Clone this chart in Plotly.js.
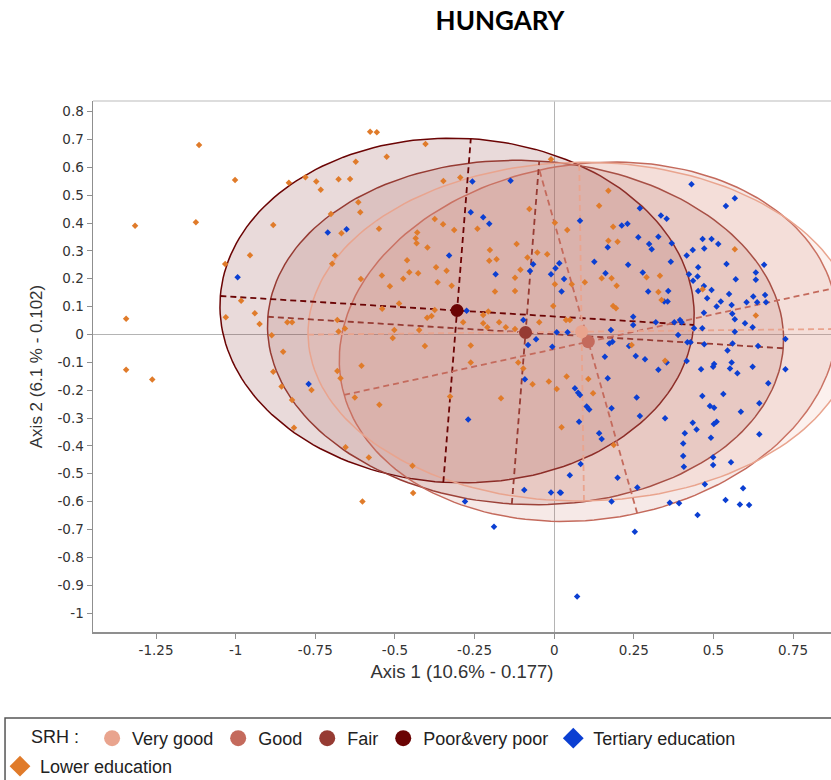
<!DOCTYPE html>
<html>
<head>
<meta charset="utf-8">
<script src="https://cdn.plot.ly/plotly-3.0.1.min.js"></script>
<style>html,body{margin:0;padding:0;background:#fff;}</style>
</head>
<body>
<div id="chart" style="width:831px;height:780px;"></div>
<script>
// Self-rated health (SRH) categories: centroids and confidence ellipses on the first factorial plane
const srhNames = ["Very good", "Good", "Fair", "Poor&very poor"];
const srhColors = ["#e9a48e", "#c46a5c", "#963b33", "#6b0404"];
const srhCentroidX = [0.086, 0.107, -0.090, -0.305];
const srhCentroidY = [0.010, -0.026, 0.007, 0.086];
const ellipseSemiMajor = [0.859, 0.790, 0.811, 0.745];
const ellipseSemiMinor = [0.608, 0.635, 0.617, 0.618];
const ellipseAngleDeg = [0.7, 14, -4, -4];

// Individuals with tertiary education (axis 1, axis 2)
const tertiaryPoints = [
[-0.994,0.205],[-0.711,0.366],[-0.652,0.378],[-0.771,-0.178],
[-0.257,0.549],[-0.137,0.552],[-0.262,0.439],[-0.223,0.421],[-0.204,0.397],[-0.330,0.283],[-0.275,0.085],[-0.184,0.216],
[-0.076,0.228],[-0.066,0.252],[-0.010,0.216],[0.004,0.238],[0.016,0.256],[0.031,0.199],[0.023,0.154],[0.081,0.408],
[0.126,0.261],[0.161,0.220],[0.168,0.313],[0.212,0.391],[0.230,0.397],[0.269,0.453],[0.264,0.349],[0.298,0.325],
[0.306,0.306],[0.327,0.351],[0.335,0.427],[0.353,0.415],[0.232,0.250],[0.278,0.222],[0.295,0.154],[0.358,0.156],
[0.345,0.118],[0.356,0.118],[0.366,0.261],[0.369,0.327],[0.431,0.539],[0.539,0.461],[0.567,0.489],[0.416,0.283],
[0.435,0.303],[0.466,0.343],[0.494,0.343],[0.515,0.325],[0.471,0.309],[0.452,0.241],[0.423,0.216],[0.436,0.193],
[0.450,0.208],[0.470,0.174],[0.452,0.156],[0.494,0.160],[0.480,0.130],[0.523,0.118],[0.510,0.100],[0.470,0.078],
[0.465,0.022],[0.541,0.253],[0.570,0.198],[0.549,0.145],[0.557,0.106],[0.559,0.074],[0.567,0.055],[0.567,0.010],
[0.599,0.040],[0.623,0.026],[0.604,0.116],[0.625,0.136],[0.637,0.116],[0.633,0.196],[0.633,0.222],[0.659,0.250],
[0.662,0.142],[0.665,0.116],[0.726,-0.016],[0.726,-0.125],[0.672,-0.175],[0.640,-0.041],[0.623,-0.116],[0.575,-0.139],
[0.557,-0.101],[0.552,-0.122],[0.560,-0.032],[0.544,-0.058],[0.502,-0.106],[0.499,-0.116],[0.471,-0.035],[0.461,-0.125],
[0.439,0.022],[0.418,-0.028],[0.428,-0.028],[0.395,0.052],[0.400,0.044],[0.389,-0.002],[0.377,0.044],[0.416,-0.095],
[0.327,-0.127],[0.353,-0.101],[0.285,-0.089],[0.256,-0.077],[0.319,0.044],[0.248,0.064],[0.248,0.034],[0.178,0.016],
[0.173,-0.032],[0.183,-0.026],[0.235,-0.041],[0.159,-0.080],[0.168,-0.157],[0.008,0.008],[0.042,0.008],[-0.006,-0.044],
[-0.057,-0.017],[-0.082,-0.038],[-0.097,0.052],[-0.092,-0.161],[0.065,-0.193],
[0.075,-0.209],[0.081,-0.217],[0.102,-0.259],[0.110,-0.269],[0.180,-0.265],[0.259,-0.226],[0.269,-0.293],[0.348,-0.301],
[0.078,-0.313],[0.141,-0.355],[0.149,-0.375],[0.083,-0.465],[0.049,-0.505],[0.021,-0.568],[0.199,-0.514],[0.261,-0.549],
[0.180,-0.600],[0.253,-0.708],[0.363,-0.604],[0.392,-0.606],[0.450,-0.648],[0.473,-0.538],[0.538,-0.594],[0.583,-0.610],
[0.612,-0.612],[0.593,-0.552],[0.499,-0.441],[0.555,-0.459],[0.499,-0.469],[0.405,-0.436],[0.407,-0.475],[0.405,-0.391],
[0.410,-0.355],[0.435,-0.317],[0.447,-0.341],[0.492,-0.371],[0.501,-0.321],[0.510,-0.313],[0.586,-0.277],[0.644,-0.247],
[0.644,-0.358],[0.531,-0.214],[0.465,-0.221],[0.489,-0.257],[0.502,-0.263],
[-0.270,-0.305],[-0.010,-0.567],[0.018,-0.567],[-0.094,-0.558],[-0.280,-0.600],[-0.189,-0.690],[0.072,-0.941]
];

// Individuals with lower education (axis 1, axis 2)
const lowerPoints = [
[-1.115,0.680],[-1.316,0.390],[-1.002,0.554],[-1.125,0.403],[-1.344,0.056],[-1.344,-0.127],[-1.262,-0.162],
[-0.578,0.728],[-0.557,0.726],[-0.526,0.638],[-0.623,0.620],[-0.833,0.545],[-0.781,0.564],[-0.747,0.549],[-0.733,0.519],
[-0.677,0.557],[-0.641,0.558],[-0.615,0.475],[-0.609,0.439],[-0.882,0.393],[-0.701,0.432],[-0.668,0.363],[-0.688,0.283],
[-0.697,0.254],[-0.550,0.379],[-0.955,0.284],[-1.033,0.253],[-0.983,0.121],[-0.940,0.076],[-0.925,0.038],[-1.031,0.062],
[-0.838,0.044],[-0.823,0.044],[-0.887,-0.003],[-0.851,-0.062],[-0.882,-0.134],[-0.856,-0.187],[-0.681,0.052],[-0.677,0.011],
[-0.657,0.021],[-0.607,0.199],[-0.541,0.212],[-0.516,0.173],[-0.487,0.111],[-0.540,0.092],[-0.502,0.016],[-0.507,-0.013],
[-0.605,-0.112],[-0.681,-0.131],[-0.671,-0.157],[-0.462,0.266],[-0.455,0.223],[-0.474,0.200],[-0.430,0.366],[-0.435,0.345],
[-0.432,0.327],[-0.427,0.220],[-0.424,0.016],
[-0.762,-0.199],[-0.823,-0.235],[-0.817,-0.335],[-0.655,-0.405],[-0.582,-0.442],[-0.626,-0.226],[-0.549,-0.252],
[-0.602,-0.600],[-0.443,-0.569],[-0.445,-0.471],
[-0.404,0.684],[-0.010,0.629],[-0.348,0.551],[-0.295,0.563],[0.170,0.516],[0.141,0.462],[-0.375,0.414],[-0.349,0.396],
[-0.314,0.375],[-0.241,0.379],[-0.398,0.312],[-0.371,0.241],[-0.338,0.229],[-0.322,0.175],[-0.366,0.187],[-0.202,0.303],
[-0.204,0.265],[-0.181,0.270],[-0.118,0.325],[-0.078,0.450],[-0.053,0.294],[-0.022,0.288],[-0.084,0.276],[0.002,0.401],
[0.041,0.375],[-0.106,0.232],[-0.123,0.204],[-0.186,0.154],[-0.123,0.156],[0.002,0.180],[-0.003,0.102],[0.055,0.180],
[-0.223,0.070],[-0.207,0.082],[-0.375,0.088],[-0.399,0.060],[-0.385,0.066],[-0.286,0.044],[-0.223,0.040],[-0.210,0.026],
[-0.173,0.044],[-0.152,0.026],[-0.123,0.020],[-0.047,0.044],[0.037,0.052],[0.049,0.052],[-0.406,-0.041],[-0.262,-0.040],
[-0.262,-0.101],[-0.113,-0.101],[-0.097,-0.122],[-0.068,-0.179],[0.039,-0.151],[0.185,0.387],[0.199,0.333],[0.170,0.336],
[0.149,0.202],[0.180,0.202],[0.196,0.175],[0.185,0.102],[0.194,0.094],[0.096,0.187],[0.290,0.205],[0.332,0.211],
[0.327,0.152],[0.337,0.124],[0.243,-0.038],[0.348,-0.094],[0.567,0.306],[0.633,0.068],[0.466,0.162],
[0.107,-0.160],[0.122,-0.211],[0.023,-0.333],[0.187,-0.397],[-0.327,-0.223],[-0.167,-0.229],[-0.017,-0.169],[0.008,-0.196]
];

const xTickVals = [-1.25, -1, -0.75, -0.5, -0.25, 0, 0.25, 0.5, 0.75];
const xTickText = ["-1.25", "-1", "-0.75", "-0.5", "-0.25", "0", "0.25", "0.5", "0.75"];
const yTickVals = [0.8, 0.7, 0.6, 0.5, 0.4, 0.3, 0.2, 0.1, 0, -0.1, -0.2, -0.3, -0.4, -0.5, -0.6, -0.7, -0.8, -0.9, -1];
const yTickText = ["0.8", "0.7", "0.6", "0.5", "0.4", "0.3", "0.2", "0.1", "0", "-0.1", "-0.2", "-0.3", "-0.4", "-0.5", "-0.6", "-0.7", "-0.8", "-0.9", "-1"];

const tertiaryColor = "#0b3fd2";
const lowerColor = "#e07b2a";

function rgba(hex, a) {
  const n = parseInt(hex.slice(1), 16);
  return "rgba(" + ((n >> 16) & 255) + "," + ((n >> 8) & 255) + "," + (n & 255) + "," + a + ")";
}

// Outline of ellipse i, sampled around its parametric angle
function ellipseOutline(i, steps) {
  const th = ellipseAngleDeg[i] * Math.PI / 180, c = Math.cos(th), s = Math.sin(th);
  const xs = [], ys = [];
  for (let k = 0; k <= steps; k++) {
    const t = 2 * Math.PI * k / steps;
    const u = ellipseSemiMajor[i] * Math.cos(t), v = ellipseSemiMinor[i] * Math.sin(t);
    xs.push(srhCentroidX[i] + u * c - v * s);
    ys.push(srhCentroidY[i] + u * s + v * c);
  }
  return { xs, ys };
}

// Principal axes of ellipse i (major, gap, minor)
function ellipseAxes(i) {
  const th = ellipseAngleDeg[i] * Math.PI / 180, c = Math.cos(th), s = Math.sin(th);
  const cx = srhCentroidX[i], cy = srhCentroidY[i], a = ellipseSemiMajor[i], b = ellipseSemiMinor[i];
  return {
    xs: [cx - a * c, cx + a * c, null, cx + b * s, cx - b * s],
    ys: [cy - a * s, cy + a * s, null, cy - b * c, cy + b * c]
  };
}

const traces = [];
const drawOrder = [3, 2, 1, 0];

drawOrder.forEach(i => {
  const e = ellipseOutline(i, 180);
  traces.push({
    type: "scatter", mode: "lines", x: e.xs, y: e.ys, fill: "toself",
    fillcolor: rgba(srhColors[i], 0.15),
    line: { color: srhColors[i], width: 1.5 },
    showlegend: false, hoverinfo: "skip"
  });
});

drawOrder.forEach(i => {
  const ax = ellipseAxes(i);
  traces.push({
    type: "scatter", mode: "lines", x: ax.xs, y: ax.ys,
    line: { color: srhColors[i], width: 1.8, dash: "6px,4px" },
    showlegend: false, hoverinfo: "skip"
  });
});

traces.push({
  type: "scatter", mode: "markers", name: "Tertiary education",
  x: tertiaryPoints.map(p => p[0]), y: tertiaryPoints.map(p => p[1]),
  marker: { symbol: "diamond", size: 5, color: tertiaryColor },
  showlegend: false
});
traces.push({
  type: "scatter", mode: "markers", name: "Lower education",
  x: lowerPoints.map(p => p[0]), y: lowerPoints.map(p => p[1]),
  marker: { symbol: "diamond", size: 5, color: lowerColor },
  showlegend: false
});

// Category centroids
drawOrder.forEach(i => {
  traces.push({
    type: "scatter", mode: "markers", name: srhNames[i],
    x: [srhCentroidX[i]], y: [srhCentroidY[i]],
    marker: { symbol: "circle", size: 13, color: srhColors[i] },
    showlegend: false
  });
});

// Legend entries
srhNames.forEach((n, i) => {
  traces.push({
    type: "scatter", mode: "markers", name: n, x: [null], y: [null],
    marker: { symbol: "circle", size: 16, color: srhColors[i] },
    legend: "legend", showlegend: true, hoverinfo: "skip"
  });
});
traces.push({
  type: "scatter", mode: "markers", name: "Tertiary education", x: [null], y: [null],
  marker: { symbol: "diamond", size: 16, color: tertiaryColor },
  legend: "legend", showlegend: true, hoverinfo: "skip"
});
traces.push({
  type: "scatter", mode: "markers", name: "Lower education", x: [null], y: [null],
  marker: { symbol: "diamond", size: 16, color: lowerColor },
  legend: "legend2", showlegend: true, hoverinfo: "skip"
});

const tickFont = { family: "DejaVu Sans, Liberation Sans, sans-serif", size: 13.5, color: "#333" };
const legendFont = { family: "Liberation Sans, Arial, sans-serif", size: 18, color: "#222" };

const layout = {
  width: 831, height: 780,
  margin: { l: 93, r: 0, t: 101, b: 148 },
  paper_bgcolor: "#fff", plot_bgcolor: "#fff",
  title: {
    text: "<b>HUNGARY</b>", font: { family: "Lato, Liberation Sans, sans-serif", size: 26, color: "#000" },
    xref: "container", yref: "container", x: 0.6017, xanchor: "center", y: 0.973, yanchor: "middle"
  },
  xaxis: {
    range: [-1.448, 0.869], tickmode: "array", tickvals: xTickVals, ticktext: xTickText,
    showgrid: false, zeroline: true, zerolinecolor: "#b4b4b4", zerolinewidth: 1,
    showline: true, linecolor: "#8f8f8f", linewidth: 1.5,
    ticks: "outside", ticklen: 5, tickcolor: "#8f8f8f", tickfont: tickFont,
    title: { text: "Axis 1 (10.6% - 0.177)", font: { family: "Liberation Sans, Arial, sans-serif", size: 18.5, color: "#333" }, standoff: 8 }
  },
  yaxis: {
    range: [-1.068, 0.838], tickmode: "array", tickvals: yTickVals, ticktext: yTickText,
    showgrid: false, zeroline: true, zerolinecolor: "#b4b4b4", zerolinewidth: 1,
    showline: true, linecolor: "#8f8f8f", linewidth: 1.5,
    ticks: "outside", ticklen: 5, tickcolor: "#8f8f8f", tickfont: tickFont,
    title: { text: "Axis 2 (6.1 % - 0.102)", font: { family: "Liberation Sans, Arial, sans-serif", size: 17, color: "#333" }, standoff: 10 }
  },
  legend: {
    orientation: "h", xref: "container", yref: "container",
    x: 0.035, xanchor: "left", y: 0.077, yanchor: "top",
    title: { text: "SRH : ", side: "left", font: legendFont },
    font: legendFont, bgcolor: "rgba(0,0,0,0)", borderwidth: 0, itemwidth: 30
  },
  legend2: {
    orientation: "h", xref: "container", yref: "container",
    x: 0, xanchor: "left", y: 0.041, yanchor: "top",
    font: legendFont, bgcolor: "rgba(0,0,0,0)", borderwidth: 0, itemwidth: 30
  },
  shapes: [
    { type: "line", xref: "paper", yref: "paper", x0: 0, x1: 1, y0: 1, y1: 1, line: { color: "#d2d2d2", width: 1.5 } },
    { type: "rect", xref: "paper", yref: "paper", x0: -0.1192, x1: 1.02, y0: -0.162, y1: -0.30,
      line: { color: "#555", width: 1.5 }, fillcolor: "rgba(0,0,0,0)" }
  ],
  showlegend: true
};

Plotly.newPlot("chart", traces, layout, { staticPlot: true, displayModeBar: false });
</script>
</body>
</html>
